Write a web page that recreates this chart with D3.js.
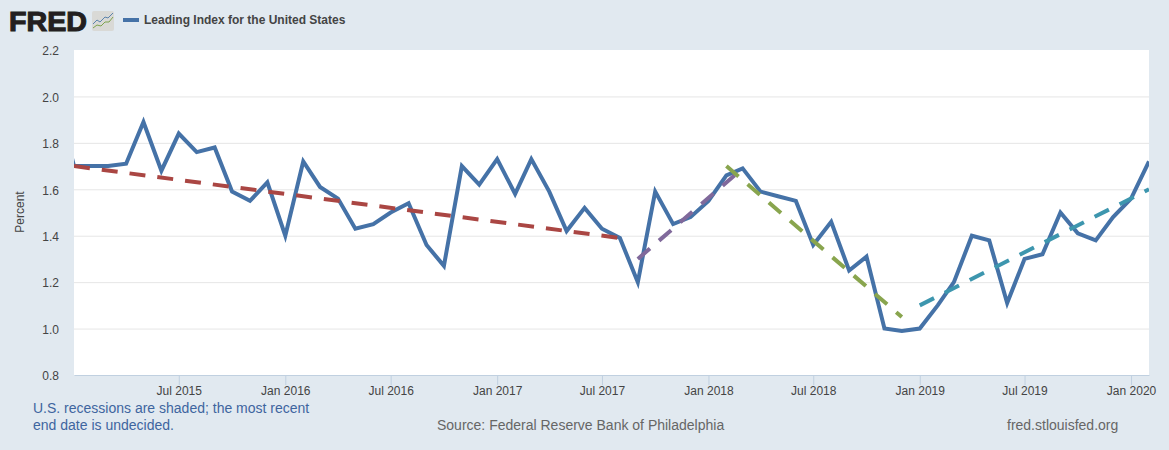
<!DOCTYPE html>
<html><head><meta charset="utf-8">
<script src="https://cdn.jsdelivr.net/npm/d3@7/dist/d3.min.js"></script>
<style>html,body{margin:0;padding:0;background:#e1e9f0;overflow:hidden}text{font-family:"Liberation Sans",Arial,sans-serif}</style>
</head><body><svg id="c" width="1169" height="450"></svg>
<script>
const startMonth = "2014-12";
const seriesName = "Leading Index for the United States";
const values = [2.00,1.70,1.70,1.70,1.71,1.89,1.68,1.84,1.76,1.78,1.59,1.55,1.63,
  1.40,1.72,1.61,1.56,1.43,1.45,1.50,1.54,1.36,1.27,1.70,1.62,
  1.73,1.58,1.73,1.59,1.42,1.52,1.43,1.39,1.20,1.59,1.45,1.48,
  1.55,1.66,1.69,1.59,1.57,1.55,1.36,1.46,1.25,1.31,1.00,0.99,
  1.00,1.10,1.20,1.40,1.38,1.11,1.30,1.32,1.50,1.41,1.38,1.48,
  1.56,1.72];
const yTicks = [0.8,1.0,1.2,1.4,1.6,1.8,2.0,2.2];
const xTickDates = ["2015-07-01","2016-01-01","2016-07-01","2017-01-01","2017-07-01","2018-01-01","2018-07-01","2019-01-01","2019-07-01","2020-01-01"];
const trendRed = [["2015-01-01",1.70],["2017-08-01",1.39]];
const trendPurple = [["2017-09-01",1.30],["2018-03-01",1.69]];
const trendGreen = [["2018-02-01",1.70],["2018-12-01",1.05]];
const trendTeal = [["2019-01-01",1.10],["2020-02-01",1.60]];
const colors = {blue:"#4572a7",red:"#aa4643",purple:"#80699b",green:"#89a54e",teal:"#3d96ae"};

const M = {l:74,r:1149,t:50,b:375};
const svg = d3.select("#c");
const parse = d3.utcParse("%Y-%m-%d");
const x = d3.scaleUtc().domain([parse("2015-01-01"),parse("2020-02-01")]).range([M.l,M.r]);
const y = d3.scaleLinear().domain([0.8,2.2]).range([M.b,M.t]);
const dates = values.map((_,i)=>d3.utcMonth.offset(parse(startMonth+"-01"),i));

svg.append("rect").attr("width",1169).attr("height",450).attr("fill","#e1e9f0");
svg.append("rect").attr("x",M.l).attr("y",M.t).attr("width",M.r-M.l).attr("height",M.b-M.t).attr("fill","#fff");
svg.append("defs").append("clipPath").attr("id","plot").append("rect")
  .attr("x",M.l).attr("y",M.t).attr("width",M.r-M.l).attr("height",M.b-M.t);

// y axis
const gy = svg.append("g").attr("transform",`translate(${M.l},1)`)
  .call(d3.axisLeft(y).tickValues(yTicks).tickFormat(d3.format(".1f")).tickSize(0).tickPadding(15));
gy.select(".domain").remove();
gy.selectAll("text").attr("font-size",12).attr("fill","#444").style("font-family",'"Liberation Sans",Arial,sans-serif');
svg.append("g").selectAll("line").data(yTicks.filter(d=>d>0.8&&d<2.2)).join("line")
  .attr("x1",M.l).attr("x2",M.r).attr("y1",d=>y(d)+0.5).attr("y2",d=>y(d)+0.5)
  .attr("stroke","#e6e6e6").attr("stroke-width",1);

// x axis
const gx = svg.append("g").attr("transform",`translate(0,${M.b})`)
  .call(d3.axisBottom(x).tickValues(xTickDates.map(parse)).tickFormat(d3.utcFormat("%b %Y")).tickSize(10).tickPadding(1).tickSizeOuter(0));
gx.select(".domain").attr("stroke","#c0d0e0").attr("stroke-width",1);
gx.selectAll(".tick line").attr("stroke","#c0d0e0");
gx.selectAll("text").attr("font-size",12).attr("fill","#444").style("font-family",'"Liberation Sans",Arial,sans-serif');

const plot = svg.append("g").attr("clip-path","url(#plot)");
const line = d3.line().x((d,i)=>x(dates[i])).y(d=>y(d));
plot.append("path").attr("d",line(values)).attr("fill","none").attr("stroke",colors.blue)
  .attr("stroke-width",4).attr("stroke-linejoin","miter").attr("stroke-miterlimit",6);
const tl = d3.line().x(d=>x(parse(d[0]))).y(d=>y(d[1]));
[[trendRed,colors.red],[trendPurple,colors.purple],[trendGreen,colors.green],[trendTeal,colors.teal]].forEach(([t,c])=>{
  plot.append("path").attr("d",tl(t)).attr("fill","none").attr("stroke",c)
    .attr("stroke-width",4).attr("stroke-dasharray","16,12");
});

// y title
svg.append("text").attr("transform","translate(24,212) rotate(-90)").attr("text-anchor","middle")
  .attr("font-size",12).attr("fill","#444").text("Percent");

// header
svg.append("text").attr("x",9).attr("y",31).attr("font-size",28).attr("font-weight",700)
  .attr("fill","#231f20").attr("stroke","#231f20").attr("stroke-width",1.1)
  .attr("textLength",78).attr("lengthAdjust","spacingAndGlyphs").text("FRED");
const ic = svg.append("g").attr("transform","translate(92,11)");
ic.append("rect").attr("width",22).attr("height",20).attr("rx",2).attr("fill","#d9d9d6");
ic.append("path").attr("d","M1 13L5 9L8 11L13 6L16 7L21 2").attr("fill","none").attr("stroke","#5b83ad").attr("stroke-width",1);
ic.append("path").attr("d","M1 17L5 14L9 15L13 11L17 11L21 6").attr("fill","none").attr("stroke","#7da34f").attr("stroke-width",1);
svg.append("line").attr("x1",123).attr("x2",139).attr("y1",20).attr("y2",20).attr("stroke",colors.blue).attr("stroke-width",4);
svg.append("text").attr("x",144).attr("y",24).attr("font-size",12).attr("font-weight",700).attr("fill","#444").text(seriesName);

// footer
const note = svg.append("g").attr("font-size",14).attr("fill","#3e659f");
note.append("text").attr("x",33).attr("y",413).text("U.S. recessions are shaded; the most recent");
note.append("text").attr("x",33).attr("y",430).text("end date is undecided.");
svg.append("text").attr("x",437).attr("y",430).attr("font-size",14).attr("fill","#666").text("Source: Federal Reserve Bank of Philadelphia");
svg.append("text").attr("x",1007).attr("y",430).attr("font-size",14).attr("fill","#666").text("fred.stlouisfed.org");
</script></body></html>
